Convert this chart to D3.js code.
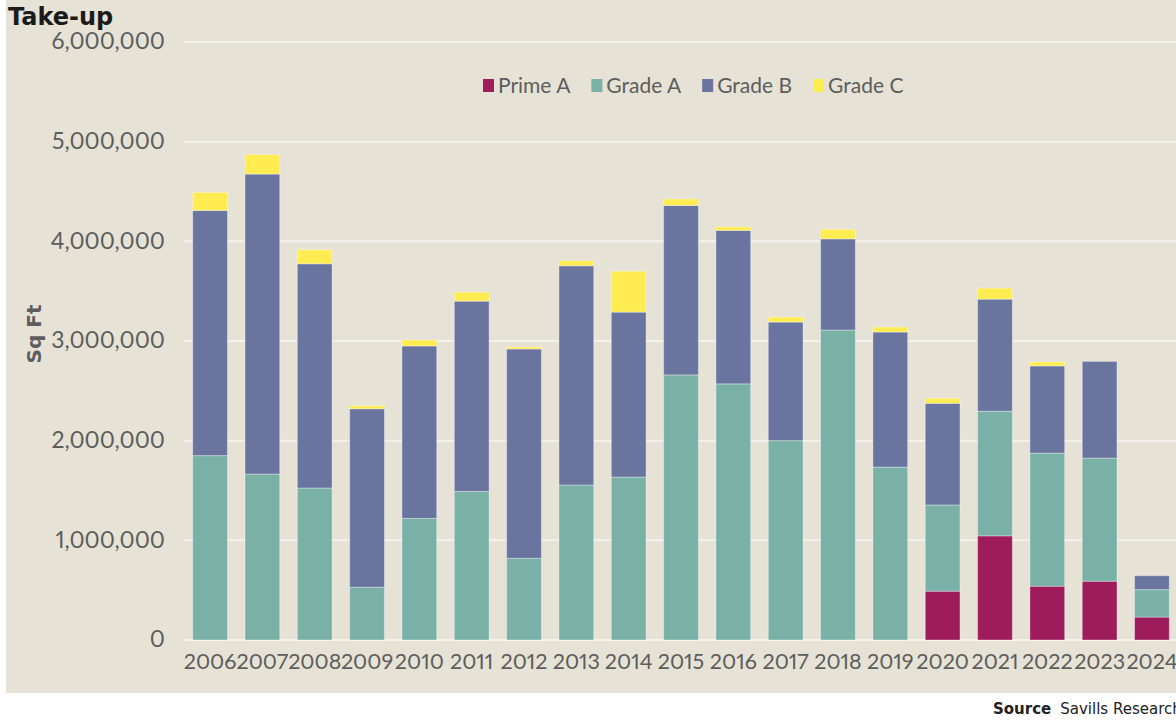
<!DOCTYPE html>
<html>
<head>
<meta charset="utf-8">
<script src="https://cdn.jsdelivr.net/npm/d3@7"></script>
<style>
  body { margin: 0; background: #fff; }
  svg { display: block; }
  text { font-variant-numeric: proportional-nums; font-feature-settings: "pnum" 1; }
</style>
</head>
<body>
<div id="chart"></div>
<script>
// take-up by grade, sq ft
var years = ['2006','2007','2008','2009','2010','2011','2012','2013','2014','2015',
             '2016','2017','2018','2019','2020','2021','2022','2023','2024'];
var primeA = [0,0,0,0,0,0,0,0,0,0,0,0,0,0,490000,1045000,540000,590000,230000];
var gradeA = [1850000,1665000,1525000,530000,1220000,1490000,820000,1555000,1635000,2660000,
              2570000,2000000,3110000,1735000,865000,1250000,1335000,1235000,275000];
var gradeB = [2460000,3010000,2250000,1790000,1730000,1910000,2100000,2200000,1655000,1700000,
              1540000,1190000,915000,1355000,1020000,1125000,875000,970000,140000];
var gradeC = [180000,195000,140000,30000,60000,90000,20000,50000,410000,65000,
              35000,50000,95000,50000,50000,110000,40000,0,0];
var seriesNames = ['Prime A','Grade A','Grade B','Grade C'];
var seriesColors = ['#9e1c5c','#7ab1a7','#6a759f','#ffec50'];
var yTicks = [0,1000000,2000000,3000000,4000000,5000000,6000000];

var width = 1176, height = 720;
var svg = d3.select('#chart').append('svg')
  .attr('width', width)
  .attr('height', height);

svg.append('rect')
  .attr('x', 6).attr('y', 0)
  .attr('width', width - 6).attr('height', 693)
  .attr('fill', '#e6e2d6');

var x = d3.scaleBand()
  .domain(years)
  .range([184, 1178])
  .paddingInner(0.336)
  .paddingOuter(0.166);

var y = d3.scaleLinear()
  .domain([0, 6000000])
  .range([640, 42]);

// gridlines
svg.selectAll('.grid')
  .data(yTicks)
  .enter()
  .append('line')
  .attr('class', 'grid')
  .attr('x1', 184).attr('x2', width)
  .attr('y1', function(d) { return y(d); })
  .attr('y2', function(d) { return y(d); })
  .attr('stroke', '#f4f2ec')
  .attr('stroke-width', 2);

// stacked bars
var rows = years.map(function(yr, i) {
  return { year: yr, 'Prime A': primeA[i], 'Grade A': gradeA[i], 'Grade B': gradeB[i], 'Grade C': gradeC[i] };
});
var stacked = d3.stack().keys(seriesNames)(rows);

svg.selectAll('.series')
  .data(stacked)
  .enter()
  .append('g')
  .attr('class', 'series')
  .attr('fill', function(d, i) { return seriesColors[i]; })
  .selectAll('rect')
  .data(function(d) { return d.filter(function(s) { return s[1] - s[0] > 0; }); })
  .enter()
  .append('rect')
  .attr('x', function(d) { return x(d.data.year); })
  .attr('width', x.bandwidth())
  .attr('y', function(d) { return y(d[1]); })
  .attr('height', function(d) { return y(d[0]) - y(d[1]); })
  .attr('stroke', 'rgba(255,255,255,0.35)')
  .attr('stroke-width', 1);

// y axis labels
var yAxis = svg.append('g')
  .attr('transform', 'translate(165,0)')
  .call(d3.axisLeft(y).tickValues(yTicks).tickSize(0).tickPadding(0).tickFormat(d3.format(',')));
yAxis.select('.domain').remove();
yAxis.selectAll('text')
  .attr('font-family', 'Lato, sans-serif')
  .attr('font-size', 23)
  .attr('fill', '#5d5d5d')
  .attr('dy', '0.3em');

// x axis labels
var xAxis = svg.append('g')
  .attr('transform', 'translate(0,653)')
  .call(d3.axisBottom(x).tickSize(0).tickPadding(0));
xAxis.select('.domain').remove();
xAxis.selectAll('text')
  .attr('font-family', 'Lato, sans-serif')
  .attr('font-size', 21.5)
  .attr('fill', '#5d5d5d')
  .attr('dy', '0.76em');

// y title
svg.append('text')
  .attr('transform', 'translate(41,334) rotate(-90)')
  .attr('text-anchor', 'middle')
  .attr('font-family', 'DejaVu Sans, sans-serif')
  .attr('font-weight', 'bold')
  .attr('font-size', 20)
  .attr('fill', '#5d5d5d')
  .text('Sq Ft');

// chart title
svg.append('text')
  .attr('x', 8).attr('y', 25)
  .attr('font-family', 'DejaVu Sans, sans-serif')
  .attr('font-weight', 'bold')
  .attr('font-size', 24)
  .attr('fill', '#1b1b1b')
  .text('Take-up');

// legend
var legend = svg.append('g').attr('transform', 'translate(483,86)');
var lx = 0;
seriesNames.forEach(function(name, i) {
  var item = legend.append('g').attr('transform', 'translate(' + lx + ',0)');
  item.append('rect')
    .attr('x', 0).attr('y', -7)
    .attr('width', 11).attr('height', 13)
    .attr('fill', seriesColors[i]);
  var t = item.append('text')
    .attr('x', 15)
    .attr('dy', '0.35em')
    .attr('font-family', 'Lato, sans-serif')
    .attr('font-size', 21)
    .attr('fill', '#5d5d5d')
    .text(name);
  lx += 15 + t.node().getComputedTextLength() + 21;
});

// source
var src = svg.append('text')
  .attr('x', 993).attr('y', 714)
  .attr('font-family', 'DejaVu Sans, sans-serif')
  .attr('font-size', 15)
  .attr('fill', '#222');
src.append('tspan').attr('font-weight', 'bold').text('Source');
src.append('tspan').attr('dx', 9).text('Savills Research');
</script>
</body>
</html>
